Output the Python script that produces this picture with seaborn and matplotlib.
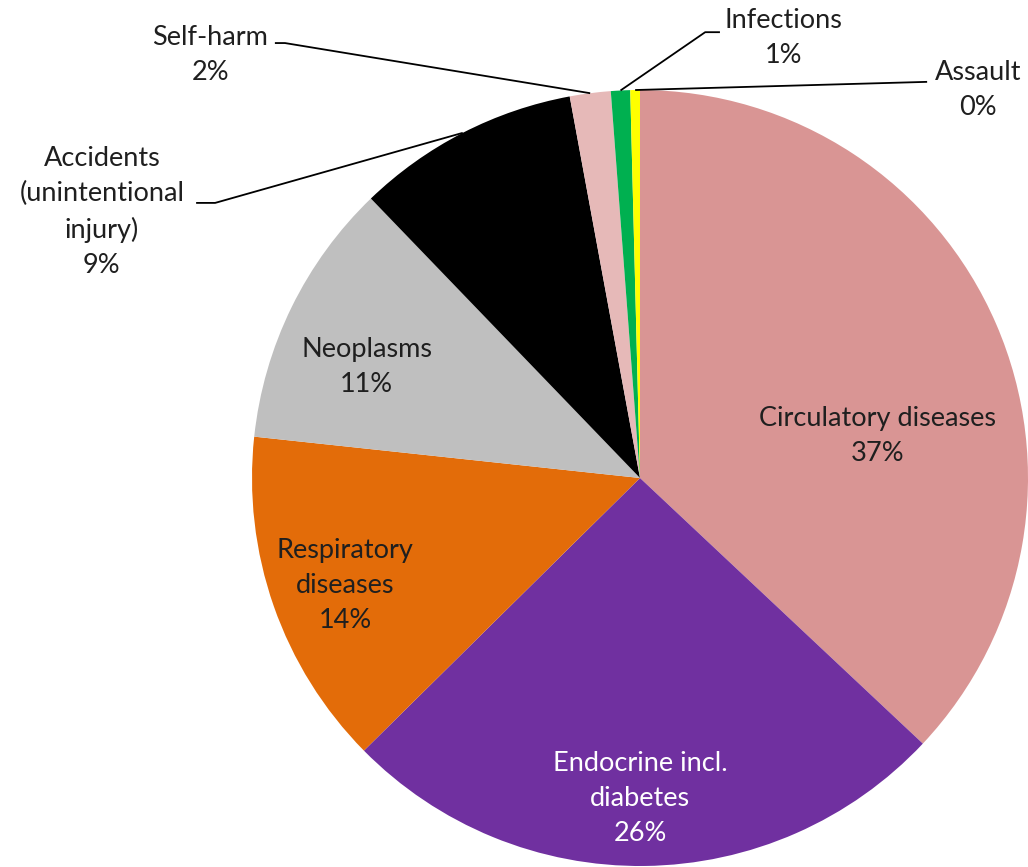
import numpy as np
import matplotlib.pyplot as plt
import seaborn as sns

sns.set_theme(style="white")
plt.rcParams['font.family'] = ['Lato', 'DejaVu Sans']

# share of deaths by cause (clockwise from 12 o'clock)
causes = ['Circulatory diseases', 'Endocrine incl.\ndiabetes', 'Respiratory\ndiseases',
          'Neoplasms', 'Accidents\n(unintentional\ninjury)', 'Self-harm', 'Infections', 'Assault']
shares = [37.0, 25.6, 14.1, 11.1, 9.3, 1.7, 0.8, 0.4]
pcts = ['37%', '26%', '14%', '11%', '9%', '2%', '1%', '0%']
colors = ['#D99594', '#7030A0', '#E36C09', '#BFBFBF', '#000000', '#E6B9B8', '#00B050', '#FFFF00']

fig = plt.figure(figsize=(10.28, 8.67), dpi=100)
# pie centre at (640, 478) px, radius 388 px
ax = fig.add_axes([252/1028, 1/867, 776/1028, 776/867])
wedges, _ = ax.pie(shares, colors=colors, startangle=90, counterclock=False,
                   wedgeprops=dict(linewidth=0))
ax.set_xlim(-1, 1)
ax.set_ylim(-1, 1)
ax.set_aspect('equal')
ax.axis('off')

fs = 19.5
ls = 1.5
tc = '#1f1f1f'
# label positions in pie units
inside = {0: (0.613, 0.108), 1: (0.0, -0.825), 2: (-0.76, -0.276), 3: (-0.704, 0.286)}
for i, (x, y) in inside.items():
    col = 'white' if i == 1 else tc
    ax.text(x, y, causes[i] + '\n' + pcts[i], ha='center', va='center',
            fontsize=fs, color=col, linespacing=ls)

outside = {4: (-1.387, 0.686), 5: (-1.108, 1.089), 6: (0.369, 1.134), 7: (0.871, 1.0)}
for i, (x, y) in outside.items():
    ax.text(x, y, causes[i] + '\n' + pcts[i], ha='center', va='center',
            fontsize=fs, color=tc, linespacing=ls, clip_on=False)

# leader lines: label end -> elbow -> wedge edge at mid angle
leaders = {4: [(-1.144, 0.709), (-1.095, 0.709)],
           5: [(-0.941, 1.121), (-0.915, 1.121)],
           6: [(0.206, 1.149), (0.168, 1.149)],
           7: [(0.740, 1.021)]}
for i, pts in leaders.items():
    w = wedges[i]
    ang = np.deg2rad((w.theta1 + w.theta2) / 2)
    ex, ey = np.cos(ang) * 1.0, np.sin(ang) * 1.0
    xs = [p[0] for p in pts] + [ex]
    ys = [p[1] for p in pts] + [ey]
    ax.plot(xs, ys, color='black', lw=1.3, clip_on=False, solid_capstyle='butt')

fig.savefig('out.png', dpi=100)
